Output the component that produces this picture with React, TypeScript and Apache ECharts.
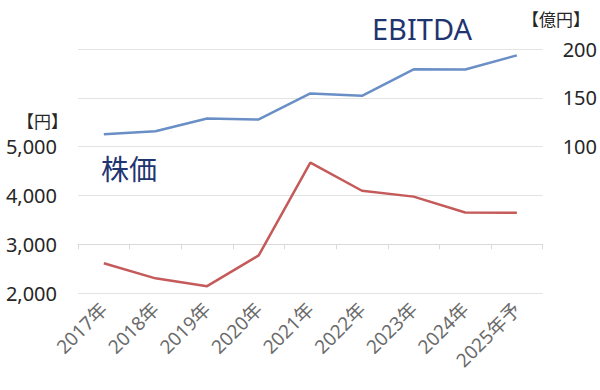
import React, { useEffect, useRef } from "react";
import * as echarts from "echarts";

const categories = ["2017年", "2018年", "2019年", "2020年", "2021年", "2022年", "2023年", "2024年", "2025年予"];
const stockPrice = [2610, 2300, 2140, 2770, 4670, 4095, 3975, 3650, 3645];
const ebitda = [112.7, 115.8, 128.8, 127.8, 154.5, 152, 179.2, 179, 193.5];
const leftTicks = { min: 2000, max: 7000, interval: 1000, showMax: 5000 };
const rightTicks = { min: -50, max: 200, interval: 50, showMin: 100 };

const FONT = "'Noto Sans', 'Noto Sans CJK JP', sans-serif";

export default function App() {
  const ref = useRef<HTMLDivElement>(null);
  useEffect(() => {
    if (!ref.current) return;
    const chart = echarts.init(ref.current, undefined, { renderer: "svg" });
    chart.setOption({
      animation: false,
      backgroundColor: "#ffffff",
      textStyle: { fontFamily: FONT },
      grid: { left: 78, right: 57, top: 49, bottom: 97, containLabel: false },
      xAxis: {
        type: "category",
        data: categories,
        boundaryGap: true,
        axisLine: { lineStyle: { color: "#d9d9d9", width: 1 } },
        axisTick: { show: true, lineStyle: { color: "#d9d9d9" }, length: 5 },
        axisLabel: {
          rotate: 45,
          margin: 13,
          fontSize: 19,
          color: "#6b6b6b",
          fontFamily: FONT,
          interval: 0,
        },
      },
      yAxis: [
        {
          type: "value",
          position: "left",
          min: leftTicks.min,
          max: leftTicks.max,
          interval: leftTicks.interval,
          axisLine: { show: false },
          axisTick: { show: false },
          splitLine: { lineStyle: { color: "#e3e3e3", width: 1 } },
          axisLabel: {
            margin: 21,
            fontSize: 20,
            color: "#262626",
            fontFamily: FONT,
            formatter: (v: number) => (v <= leftTicks.showMax ? v.toLocaleString("en-US") : ""),
          },
        },
        {
          type: "value",
          position: "right",
          min: rightTicks.min,
          max: rightTicks.max,
          interval: rightTicks.interval,
          axisLine: { show: false },
          axisTick: { show: false },
          splitLine: { show: false },
          axisLabel: {
            margin: 20,
            fontSize: 20,
            color: "#262626",
            fontFamily: FONT,
            formatter: (v: number) => (v >= rightTicks.showMin ? String(v) : ""),
          },
        },
      ],
      series: [
        {
          name: "株価",
          type: "line",
          yAxisIndex: 0,
          data: stockPrice,
          symbol: "none",
          lineStyle: { color: "#c55a5a", width: 2.5 },
          itemStyle: { color: "#c55a5a" },
        },
        {
          name: "EBITDA",
          type: "line",
          yAxisIndex: 1,
          data: ebitda,
          symbol: "none",
          lineStyle: { color: "#6a8fc6", width: 2.5 },
          itemStyle: { color: "#6a8fc6" },
        },
      ],
      graphic: [
        {
          type: "text",
          left: 17,
          top: 113,
          style: { text: "【円】", fontSize: 17, fill: "#262626", fontFamily: FONT },
        },
        {
          type: "text",
          left: 522,
          top: 11,
          style: { text: "【億円】", fontSize: 17, fill: "#262626", fontFamily: FONT },
        },
        {
          type: "text",
          left: 372,
          top: 14,
          style: { text: "EBITDA", fontSize: 29, fill: "#1f3570", fontFamily: FONT },
        },
        {
          type: "text",
          left: 101,
          top: 155,
          style: { text: "株価", fontSize: 28, fill: "#1f3570", fontFamily: FONT },
        },
      ],
    });
    return () => chart.dispose();
  }, []);
  return (
    <div
      ref={ref}
      style={{ position: "fixed", left: 0, top: 0, width: 600, height: 390 }}
    />
  );
}
